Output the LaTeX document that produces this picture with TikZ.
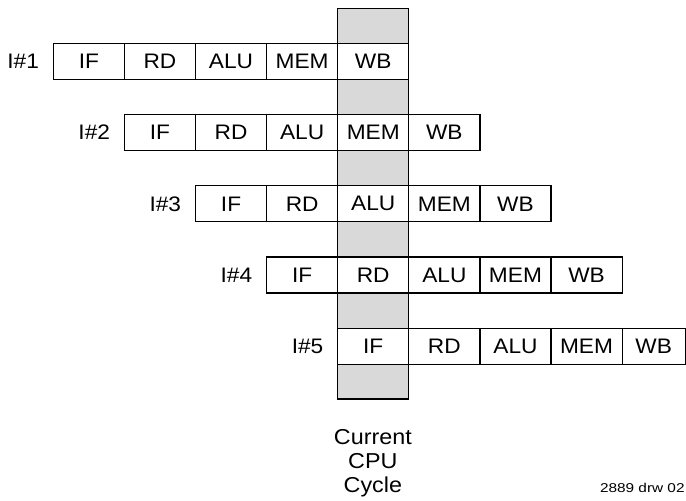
\documentclass[tikz,border=0pt]{standalone}
\usepackage{fontspec}
\setmainfont{Liberation Sans}
\newfontfamily\stagefont{Liberation Sans}[FakeStretch=1.08]
\newfontfamily\notefont{Liberation Sans}[FakeStretch=1.2]
\usetikzlibrary{positioning}
\begin{document}
\begin{tikzpicture}[x=0.5pt,y=-0.5pt,
	stage/.style = {shape=rectangle, draw, fill=white, line width=0.6pt, outer sep=0pt, minimum width=35.55pt, minimum height=18pt, inner sep=0pt, font=\stagefont\fontsize{10.5}{12}\selectfont},
	instr/.style = {inner sep=0pt, font=\stagefont\fontsize{10.5}{12}\selectfont},
	cycle/.style = {shape=rectangle, draw, fill=black!15, line width=0.6pt, outer sep=0pt, minimum width=35.55pt, minimum height=195.35pt, inner sep=0pt},
	caption/.style = {align=center, inner sep=0pt, font=\stagefont\fontsize{10.8}{12}\selectfont},
	note/.style = {inner sep=0pt, font=\notefont\fontsize{6.4}{8}\selectfont}]
\useasboundingbox (0,0) rectangle (686,500);
\node[cycle, anchor=north west] (cyc) at (337.3,8.3) {};
\foreach \r [evaluate=\r as \wlast using {\r==5 ? 31.65 : 35.55}] in {1,...,5} {
	\node[stage, anchor=north west] (r\r-1) at ({53.3+71.1*(\r-1)},{43.3+71.25*(\r-1)}) {IF};
	\foreach \txt [count=\i from 2, evaluate=\i as \p using int(\i-1)] in {RD,ALU,MEM} {
		\node[stage, right=0pt of r\r-\p] (r\r-\i) {\txt};
	}
	\node[stage, minimum width=\wlast pt, right=0pt of r\r-4] (r\r-5) {WB};
	\node[instr, left=7pt of r\r-1] (lab\r) {I\#\r};
}
\node[caption, below=15pt of cyc] (cur) {Current\\CPU\\Cycle};
\node[note, anchor=base east] (drw) at (685,492.3) {2889 drw 02};
\end{tikzpicture}
\end{document}
